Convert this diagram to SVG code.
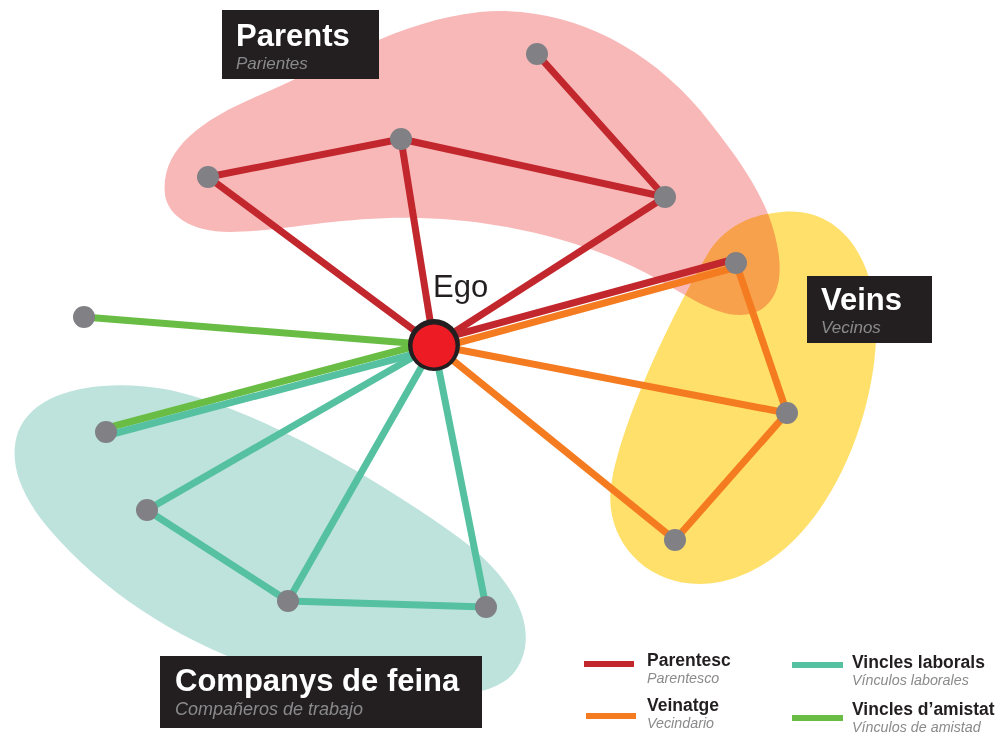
<svg xmlns="http://www.w3.org/2000/svg" width="1005" height="735" viewBox="0 0 1005 735">
<style>
.e{stroke-width:7;fill:none;stroke-linecap:butt}
.red{stroke:#c1272d}.ora{stroke:#f47b20}.tea{stroke:#55c1a0}.gre{stroke:#69bd45}
.n{fill:#808085}
.box{fill:#231f20}
.t{font-family:"Liberation Sans",Arial,sans-serif;font-weight:bold;fill:#fff;font-size:31px}
.s{font-family:"Liberation Sans",Arial,sans-serif;font-style:italic;fill:#8a8a8c;font-size:17px}
.lt{font-family:"Liberation Sans",Arial,sans-serif;font-weight:bold;fill:#231f20;font-size:17.5px}
.ls{font-family:"Liberation Sans",Arial,sans-serif;font-style:italic;fill:#8a8a8c;font-size:14.3px}
</style>
<rect width="1005" height="735" fill="#fff"/>
<g id="blobs">
<path d="M18,432 C35,388 105,378 170,390 C260,410 380,480 462,540 C522,585 542,640 512,675 C482,705 400,700 300,680 C200,655 110,600 50,530 C20,495 8,462 18,432 Z" fill="#bde3dc"/>
<path d="M782,212 C842,206 880,262 876,340 C872,430 820,560 720,582 C650,595 600,540 612,480 C625,410 680,300 710,250 C730,222 757,214 782,212 Z" fill="#ffe06b"/>
<path d="M165,195 C160,150 200,120 260,95 C330,65 400,20 480,12 C560,5 640,40 700,110 C740,160 770,200 778,250 C785,290 770,315 740,315 C710,315 680,290 640,270 C580,240 500,220 420,218 C340,216 280,232 230,232 C190,232 168,215 165,195 Z" fill="#f8b8b8" style="mix-blend-mode:multiply"/>
</g>
<g id="connectors">
<line class="e red" x1="537" y1="54" x2="665" y2="197"/>
<line class="e red" x1="401" y1="139" x2="665" y2="197"/>
<line class="e red" x1="401" y1="139" x2="208" y2="177"/>
<line class="e red" x1="208" y1="177" x2="434" y2="345"/>
<line class="e red" x1="401" y1="139" x2="434" y2="345"/>
<line class="e red" x1="665" y1="197" x2="434" y2="345"/>
<line class="e red" x1="735" y1="259" x2="433" y2="341"/>
<line class="e ora" x1="737" y1="267" x2="435" y2="349"/>
<line class="e ora" x1="736" y1="263" x2="787" y2="413"/>
<line class="e ora" x1="434" y1="345" x2="787" y2="413"/>
<line class="e ora" x1="434" y1="345" x2="675" y2="540"/>
<line class="e ora" x1="675" y1="540" x2="787" y2="413"/>
<line class="e gre" x1="84" y1="317" x2="434" y2="345"/>
<line class="e gre" x1="105" y1="428.5" x2="433" y2="341.5"/>
<line class="e tea" x1="107" y1="435.5" x2="435" y2="348.5"/>
<line class="e tea" x1="147" y1="510" x2="434" y2="345"/>
<line class="e tea" x1="288" y1="601" x2="434" y2="345"/>
<line class="e tea" x1="486" y1="607" x2="434" y2="345"/>
<line class="e tea" x1="147" y1="510" x2="288" y2="601"/>
<line class="e tea" x1="288" y1="601" x2="486" y2="607"/>
</g>
<g id="ego">
<circle cx="434" cy="345" r="26" fill="#231f20"/>
<circle cx="434" cy="346" r="21.5" fill="#ed1c24"/>
<text x="433" y="297" font-family="Liberation Sans,Arial,sans-serif" font-size="31" fill="#231f20">Ego</text>
</g>
<g id="p1"><circle class="n" cx="537" cy="54" r="11"/></g>
<g id="p2"><circle class="n" cx="401" cy="139" r="11"/></g>
<g id="p3"><circle class="n" cx="208" cy="177" r="11"/></g>
<g id="p4"><circle class="n" cx="665" cy="197" r="11"/></g>
<g id="v1"><circle class="n" cx="736" cy="263" r="11"/></g>
<g id="v2"><circle class="n" cx="787" cy="413" r="11"/></g>
<g id="v3"><circle class="n" cx="675" cy="540" r="11"/></g>
<g id="f1"><circle class="n" cx="84" cy="317" r="11"/></g>
<g id="c1"><circle class="n" cx="106" cy="432" r="11"/></g>
<g id="c2"><circle class="n" cx="147" cy="510" r="11"/></g>
<g id="c3"><circle class="n" cx="288" cy="601" r="11"/></g>
<g id="c4"><circle class="n" cx="486" cy="607" r="11"/></g>
<g id="label-parents">
<rect class="box" x="222" y="10" width="157" height="69"/>
<text class="t" x="236" y="46">Parents</text>
<text class="s" x="236" y="69">Parientes</text>
</g>
<g id="label-veins">
<rect class="box" x="807" y="276" width="125" height="67"/>
<text class="t" x="821" y="310">Veins</text>
<text class="s" x="821" y="333">Vecinos</text>
</g>
<g id="label-companys">
<rect class="box" x="160" y="656" width="322" height="72"/>
<text class="t" x="175" y="691">Companys de feina</text>
<text class="s" x="175" y="715" style="font-size:18px">Compañeros de trabajo</text>
</g>
<g id="legend">
<line class="red" x1="584" y1="664" x2="634" y2="664" stroke-width="6"/>
<text class="lt" x="647" y="666">Parentesc</text>
<text class="ls" x="647" y="683">Parentesco</text>
<line class="ora" x1="586" y1="716" x2="636" y2="716" stroke-width="6"/>
<text class="lt" x="647" y="711">Veinatge</text>
<text class="ls" x="647" y="728">Vecindario</text>
<line class="tea" x1="792" y1="665" x2="843" y2="665" stroke-width="6"/>
<text class="lt" x="852" y="668">Vincles laborals</text>
<text class="ls" x="852" y="685">Vínculos laborales</text>
<line class="gre" x1="792" y1="718" x2="843" y2="718" stroke-width="6"/>
<text class="lt" x="852" y="715">Vincles d’amistat</text>
<text class="ls" x="852" y="732">Vínculos de amistad</text>
</g>
</svg>
